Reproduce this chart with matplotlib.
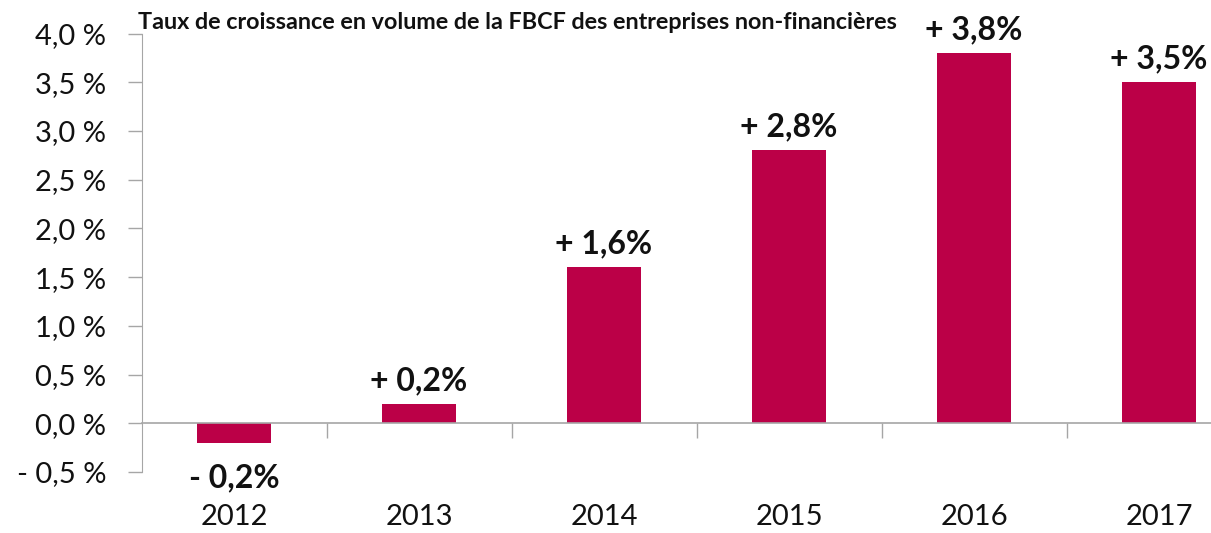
import matplotlib.pyplot as plt
import matplotlib.transforms as mtransforms
from matplotlib.ticker import FixedLocator

years = ["2012", "2013", "2014", "2015", "2016", "2017"]
growth = [-0.2, 0.2, 1.6, 2.8, 3.8, 3.5]
value_labels = ["- 0,2%", "+ 0,2%", "+ 1,6%", "+ 2,8%", "+ 3,8%", "+ 3,5%"]
yticks = [-0.5, 0.0, 0.5, 1.0, 1.5, 2.0, 2.5, 3.0, 3.5, 4.0]
ytick_labels = ["- 0,5 %", "0,0 %", "0,5 %", "1,0 %", "1,5 %", "2,0 %",
                "2,5 %", "3,0 %", "3,5 %", "4,0 %"]
title = "Taux de croissance en volume de la FBCF des entreprises non-financières"

BAR = "#BB0047"
GRID = "#A6A6A6"

plt.rcParams["font.family"] = ["Lato", "DejaVu Sans"]

fig = plt.figure(figsize=(12.11, 5.33), dpi=100)
# plot area runs past the right edge of the picture, as in the original
ax = fig.add_axes([141.5 / 1211, 61 / 533, 1110 / 1211, 438.5 / 533])

x = list(range(len(years)))
ax.bar(x, growth, width=0.4, color=BAR, zorder=2)

ax.set_xlim(-0.5, len(years) - 0.5)
ax.set_ylim(-0.5, 4.0)

ax.set_yticks(yticks)
ax.set_yticklabels(ytick_labels, fontsize=21, color="#111111")
ax.tick_params(axis="y", length=10, width=1, color=GRID, pad=15.5)

# x axis sits on the zero line, tick marks between categories
for s in ("top", "right"):
    ax.spines[s].set_visible(False)
ax.spines["left"].set_color(GRID)
ax.spines["bottom"].set_position(("data", 0))
ax.spines["bottom"].set_color(GRID)
ax.spines["bottom"].set_linewidth(1.2)
ax.set_xticks(x)
ax.set_xticklabels([])
ax.tick_params(axis="x", which="major", length=0)
ax.xaxis.set_minor_locator(FixedLocator([i + 0.5 for i in x]))
ax.tick_params(axis="x", which="minor", length=11, width=1, color=GRID)

trans = mtransforms.blended_transform_factory(ax.transData, ax.transAxes)
for i, yr in enumerate(years):
    ax.text(i, -0.103, yr, transform=trans, ha="center", va="center",
            fontsize=21, color="#111111")

for i, (v, lab) in enumerate(zip(growth, value_labels)):
    dy = 10 if v >= 0 else -32
    ax.annotate(lab, (i, v), xytext=(0, dy), textcoords="offset points",
                ha="center", va="baseline", fontsize=23, fontweight="bold",
                color="#111111")

fig.text(138 / 1211, 1 - 29 / 533, title, ha="left", va="baseline",
         fontsize=16.8, fontweight="bold", color="#111111")

fig.savefig("out.png", dpi=100)
